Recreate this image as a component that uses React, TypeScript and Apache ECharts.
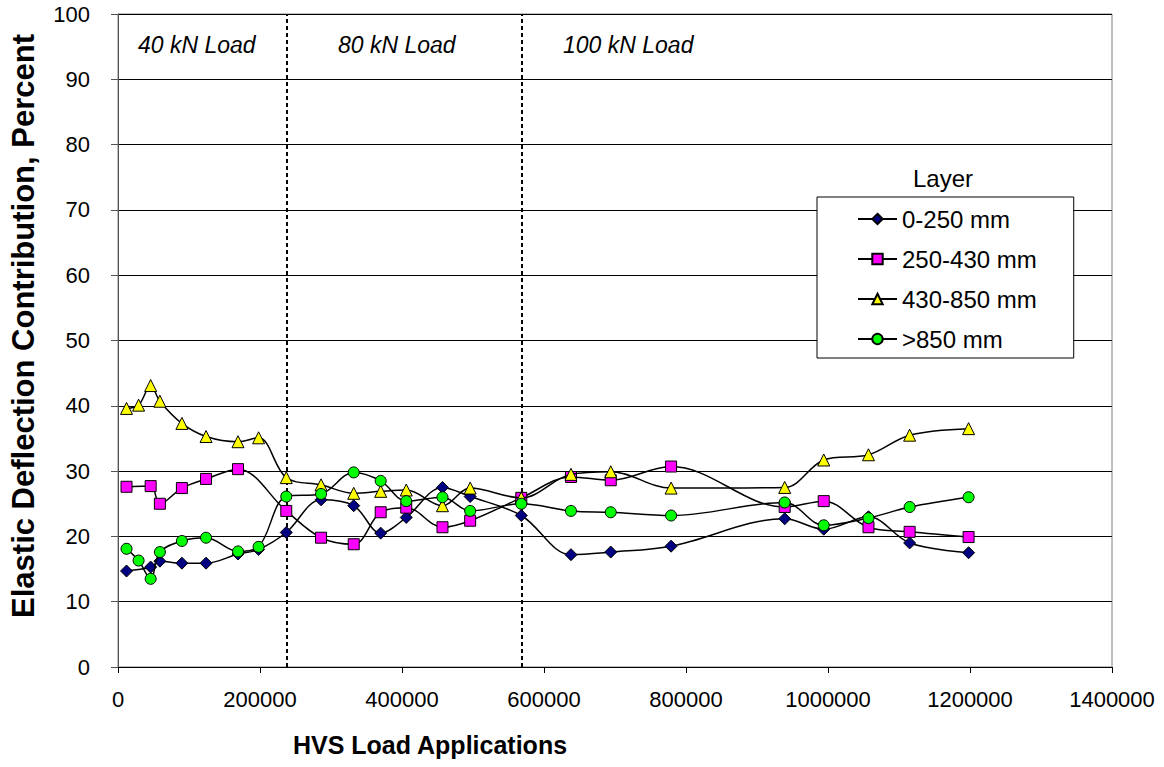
import React, { useEffect, useRef } from "react";
import * as echarts from "echarts";

const xValues = [12000, 29000, 46000, 59000, 90000, 124000, 169000, 198000, 237000, 286000, 332000, 370000, 406000, 457000, 496000, 568000, 638000, 694000, 779000, 939000, 994000, 1057000, 1115000, 1198000];
const layer0to250 = [14.7, null, 15.3, 16.2, 15.9, 15.9, 17.3, 18.0, 20.6, 25.6, 24.7, 20.5, 22.9, 27.5, 26.1, 23.2, 17.2, 17.6, 18.5, 22.7, 21.1, 23.0, 19.0, 17.5];
const layer250to430 = [27.6, null, 27.7, 25.0, 27.4, 28.8, 30.3, null, 23.9, 19.8, 18.8, 23.7, 24.4, 21.4, 22.4, 25.9, 29.1, 28.6, 30.7, 24.5, 25.4, 21.4, 20.7, 19.9];
const layer430to850 = [39.6, 40.1, 43.1, 40.7, 37.3, 35.3, 34.5, 35.1, 29.0, 27.9, 26.6, 26.9, 27.1, 24.7, 27.4, 25.9, 29.5, 29.9, 27.4, 27.5, 31.7, 32.5, 35.5, 36.5];
const layerOver850 = [18.1, 16.3, 13.5, 17.6, 19.3, 19.8, 17.7, 18.4, 26.1, 26.5, 29.8, 28.5, 25.4, 26.0, 23.9, 25.0, 23.9, 23.7, 23.2, 25.2, 21.7, 22.8, 24.5, 26.0];

const seriesNames = ["0-250 mm", "250-430 mm", "430-850 mm", ">850 mm"];
const seriesValues = [layer0to250, layer250to430, layer430to850, layerOver850];
const seriesSymbols = ["diamond", "rect", "triangle", "circle"];
const seriesColors = ["#000080", "#FF00FF", "#FFFF00", "#00FF00"];
const seriesSizes = [12, 11, 12, 11];

const loadChanges = [237000, 568000];
const loadLabels = ["40 kN Load", "80 kN Load", "100 kN Load"];

const xTitle = "HVS Load Applications";
const yTitle = "Elastic Deflection Contribution, Percent";

const FONT = "'Liberation Sans', Arial, sans-serif";

export default function App() {
  const ref = useRef<HTMLDivElement>(null);
  useEffect(() => {
    document.body.style.margin = "0";
    if (!ref.current) return;
    const chart = echarts.init(ref.current, null, { renderer: "svg" });
    const series: any[] = seriesNames.map((name, i) => ({
      name,
      type: "line",
      smooth: 0.35,
      connectNulls: true,
      data: xValues
        .map((x, j) => [x, seriesValues[i][j]])
        .filter((p) => p[1] !== null),
      symbol: seriesSymbols[i],
      symbolSize: seriesSizes[i],
      lineStyle: { color: "#000", width: 1.5 },
      itemStyle: { color: seriesColors[i], borderColor: "#000", borderWidth: 1 },
      z: 3 + i,
    }));
    series[0].markLine = {
      silent: true,
      symbol: "none",
      label: { show: false },
      lineStyle: { color: "#000", width: 2, type: [4, 3] },
      data: loadChanges.map((v) => ({ xAxis: v })),
      z: 2,
    };
    const labelStarts = [138, 338, 563];
    chart.setOption({
      animation: false,
      backgroundColor: "#fff",
      textStyle: { fontFamily: FONT },
      grid: {
        left: 118,
        right: 52,
        top: 14,
        bottom: 100,
        show: true,
        borderColor: "#808080",
        borderWidth: 1,
      },
      xAxis: {
        type: "value",
        min: 0,
        max: 1400000,
        interval: 200000,
        axisLine: { show: true, lineStyle: { color: "#000", width: 1 } },
        axisTick: { show: true, length: 6, lineStyle: { color: "#000" } },
        axisLabel: {
          fontSize: 22,
          color: "#000",
          margin: 21,
          fontFamily: FONT,
          formatter: (v: number) => String(v),
        },
        splitLine: { show: false },
      },
      yAxis: {
        type: "value",
        min: 0,
        max: 100,
        interval: 10,
        axisLine: { show: true, lineStyle: { color: "#555", width: 1 } },
        axisTick: { show: true, length: 7, lineStyle: { color: "#555" } },
        axisLabel: { fontSize: 22, color: "#000", margin: 28, fontFamily: FONT },
        splitLine: { show: true, lineStyle: { color: "#000", width: 1 } },
      },
      legend: {
        orient: "vertical",
        left: 817,
        top: 197,
        padding: [10, 37, 7, 40],
        itemGap: 16,
        itemWidth: 39,
        itemHeight: 13,
        backgroundColor: "#fff",
        borderColor: "#000",
        borderWidth: 1,
        borderRadius: 0,
        textStyle: { fontSize: 24, color: "#000", fontFamily: FONT, lineHeight: 24 },
        data: seriesNames,
      },
      graphic: [
        {
          type: "text",
          x: 430,
          y: 745,
          style: {
            text: xTitle,
            fontSize: 25,
            fontWeight: "bold",
            fontFamily: FONT,
            fill: "#000",
            textAlign: "center",
            textVerticalAlign: "middle",
          },
        },
        {
          type: "text",
          x: 23,
          y: 326,
          rotation: Math.PI / 2,
          style: {
            text: yTitle,
            fontSize: 31,
            fontWeight: "bold",
            fontFamily: FONT,
            fill: "#000",
            textAlign: "center",
            textVerticalAlign: "middle",
          },
        },
        {
          type: "text",
          x: 943,
          y: 178,
          style: {
            text: "Layer",
            fontSize: 24,
            fontFamily: FONT,
            fill: "#000",
            textAlign: "center",
            textVerticalAlign: "middle",
          },
        },
        ...loadLabels.map((t, i) => ({
          type: "text",
          x: labelStarts[i],
          y: 45,
          style: {
            text: t,
            fontSize: 23,
            fontStyle: "italic",
            fontFamily: FONT,
            fill: "#000",
            textAlign: "left",
            textVerticalAlign: "middle",
          },
        })),
      ],
      series,
    });
    return () => chart.dispose();
  }, []);
  return <div ref={ref} style={{ width: 1164, height: 767 }} />;
}
